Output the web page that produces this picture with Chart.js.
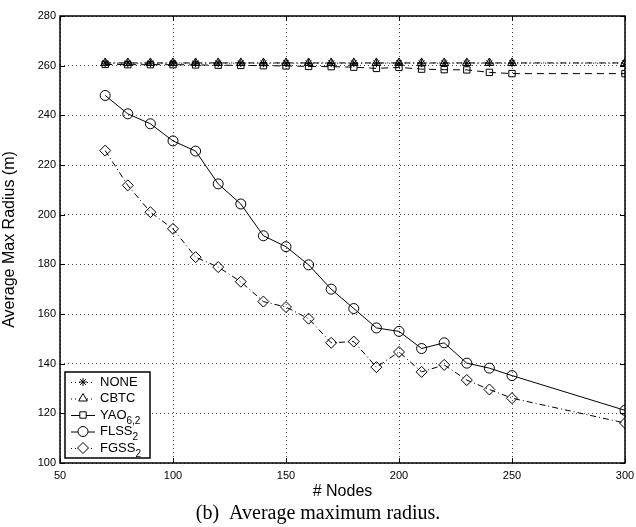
<!DOCTYPE html>
<html>
<head>
<meta charset="utf-8">
<script src="https://cdn.jsdelivr.net/npm/chart.js@4/dist/chart.umd.min.js"></script>
<style>
  html, body { margin: 0; padding: 0; background: #fff; }
  #wrap { width: 636px; height: 527px; position: relative; }
</style>
</head>
<body>
<div id="wrap"><canvas id="chart"></canvas></div>
<script>
// values
const nodes = [70, 80, 90, 100, 110, 120, 130, 140, 150, 160, 170, 180, 190, 200, 210, 220, 230, 240, 250, 300];
const none = [261, 261, 261, 261, 261, 261, 261, 261, 261, 261, 261, 261, 261, 261, 261, 261, 261, 261, 261, 261];
const cbtc = [261.1, 261.1, 261.1, 261.1, 261.1, 261.1, 261.1, 261.1, 261.1, 261.1, 261.1, 261.1, 261.1, 261.1, 261.1, 261.1, 261.1, 261.1, 261.1, 261.1];
const yao = [260.5, 260.4, 260.4, 260.4, 260.3, 260.2, 260.1, 260.0, 259.9, 259.7, 259.6, 259.4, 258.9, 259.3, 258.6, 258.4, 258.3, 257.3, 256.8, 256.8];
const flss = [248.0, 240.6, 236.6, 229.7, 225.6, 212.4, 204.3, 191.5, 187.1, 179.8, 170.0, 162.2, 154.4, 153.0, 146.1, 148.4, 140.2, 138.2, 135.2, 121.2];
const fgss = [225.8, 211.8, 201.0, 194.3, 182.9, 178.9, 173.0, 165.0, 162.8, 158.1, 148.4, 148.9, 138.6, 144.7, 136.7, 139.5, 133.4, 129.6, 126.1, 116.1];
const xTicks = [50, 100, 150, 200, 250, 300];
const yTicks = [100, 120, 140, 160, 180, 200, 220, 240, 260, 280];

const sansFont = "'Liberation Sans', Arial, sans-serif";
const serifFont = "'Liberation Serif', 'Times New Roman', serif";

function series(label, values, style, dash, radius) {
  return {
    label: label,
    data: nodes.map((n, i) => ({ x: n, y: values[i] })),
    borderColor: '#000',
    backgroundColor: 'rgba(0,0,0,0)',
    borderWidth: 1,
    borderDash: dash,
    pointStyle: style,
    pointRadius: radius,
    pointBorderColor: '#000',
    pointBackgroundColor: 'rgba(0,0,0,0)',
    pointBorderWidth: 1,
    tension: 0
  };
}

const datasets = [
  series('NONE', none, 'star', [1, 3], 4),
  series('CBTC', cbtc, 'triangle', [6, 3, 1, 3], 5),
  series('YAO', yao, 'rect', [7, 5], 4.5),
  series('FLSS', flss, 'circle', [], 5),
  series('FGSS', fgss, 'rectRot', [6, 3, 1, 3], 5.5)
];

// legend entries: [name, subscript]
const legendNames = [['NONE', ''], ['CBTC', ''], ['YAO', '6,2'], ['FLSS', '2'], ['FGSS', '2']];

const framePlugin = {
  id: 'frame',
  afterDatasetsDraw(chart) {
    const { ctx, chartArea: a, scales } = chart;
    ctx.save();
    ctx.strokeStyle = '#000';
    ctx.lineWidth = 1.5;
    ctx.setLineDash([]);
    ctx.strokeRect(a.left, a.top, a.right - a.left, a.bottom - a.top);
    ctx.lineWidth = 1;
    // inward ticks
    ctx.beginPath();
    xTicks.forEach(v => {
      const x = Math.round(scales.x.getPixelForValue(v)) + 0.5;
      ctx.moveTo(x, a.bottom); ctx.lineTo(x, a.bottom - 5);
      ctx.moveTo(x, a.top); ctx.lineTo(x, a.top + 5);
    });
    yTicks.forEach(v => {
      const y = Math.round(scales.y.getPixelForValue(v)) + 0.5;
      ctx.moveTo(a.left, y); ctx.lineTo(a.left + 5, y);
      ctx.moveTo(a.right, y); ctx.lineTo(a.right - 5, y);
    });
    ctx.stroke();

    // legend box in lower left
    const bx = a.left + 5, by = a.bottom - 91, bw = 85, bh = 86;
    ctx.fillStyle = '#fff';
    ctx.fillRect(bx, by, bw, bh);
    ctx.lineWidth = 1.5;
    ctx.strokeRect(bx, by, bw, bh);
    ctx.lineWidth = 1;
    legendNames.forEach((nm, i) => {
      const ds = datasets[i];
      const y = by + 10 + i * 16.5;
      ctx.strokeStyle = '#000';
      ctx.setLineDash(ds.borderDash.length ? [1, 3] : []);
      if (i === 2 || i === 3) ctx.setLineDash([]);
      ctx.beginPath();
      ctx.moveTo(bx + 6, y + 0.5); ctx.lineTo(bx + 30, y + 0.5);
      ctx.stroke();
      ctx.setLineDash([]);
      ctx.fillStyle = '#fff';
      Chart.helpers.drawPoint(ctx, {
        pointStyle: ds.pointStyle, radius: ds.pointRadius, borderWidth: 1
      }, bx + 18, y);
      ctx.fillStyle = '#000';
      ctx.font = '13px ' + sansFont;
      ctx.textBaseline = 'middle';
      ctx.textAlign = 'left';
      ctx.fillText(nm[0], bx + 35, y);
      if (nm[1]) {
        const w = ctx.measureText(nm[0]).width;
        ctx.font = '10px ' + sansFont;
        ctx.fillText(nm[1], bx + 35 + w, y + 6);
      }
    });

    // caption
    ctx.fillStyle = '#000';
    ctx.font = '20px ' + serifFont;
    ctx.textAlign = 'center';
    ctx.textBaseline = 'middle';
    ctx.fillText('(b)  Average maximum radius.', 318, 514);
    ctx.restore();
  }
};

new Chart(document.getElementById('chart'), {
  type: 'line',
  data: { datasets: datasets },
  options: {
    responsive: true,
    maintainAspectRatio: false,
    animation: false,
    layout: { padding: { top: 16, right: 11, bottom: 26, left: 0 } },
    plugins: { legend: { display: false }, tooltip: { enabled: false } },
    scales: {
      x: {
        type: 'linear',
        min: 50,
        max: 300,
        afterBuildTicks: s => { s.ticks = xTicks.map(v => ({ value: v })); },
        afterFit: s => { s.height = 38; s.paddingLeft = 0; s.paddingRight = 0; },
        border: { display: false, dash: [1, 3] },
        grid: { color: '#444', drawTicks: false, tickLength: 0 },
        ticks: { color: '#000', font: { family: sansFont, size: 11 }, padding: 6, maxRotation: 0 },
        title: { display: true, text: '# Nodes', color: '#000', font: { family: sansFont, size: 16 }, padding: { top: 0, bottom: 0 } }
      },
      y: {
        min: 100,
        max: 280,
        afterBuildTicks: s => { s.ticks = yTicks.map(v => ({ value: v })); },
        afterFit: s => { s.width = 60; s.paddingTop = 0; s.paddingBottom = 0; },
        border: { display: false, dash: [1, 3] },
        grid: { color: '#444', drawTicks: false, tickLength: 0 },
        ticks: { color: '#000', font: { family: sansFont, size: 11 }, padding: 4 },
        title: { display: true, text: 'Average Max Radius (m)', color: '#000', font: { family: sansFont, size: 16 }, padding: { top: 0, bottom: 2 } }
      }
    }
  },
  plugins: [framePlugin]
});
</script>
</body>
</html>
